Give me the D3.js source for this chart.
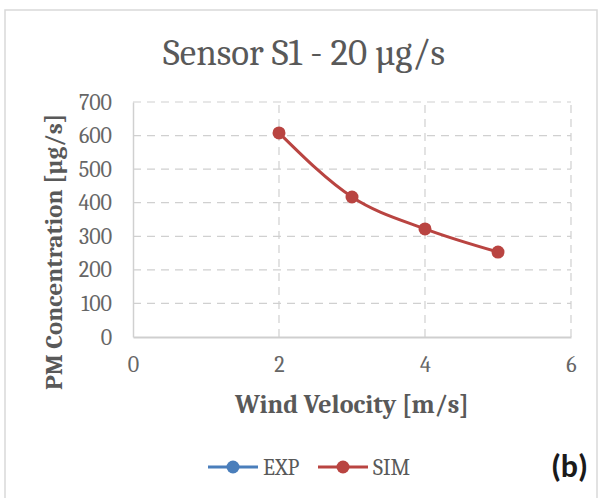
<!DOCTYPE html>
<html><head><meta charset="utf-8">
<script src="https://cdn.jsdelivr.net/npm/d3@7"></script>
<style>body{margin:0;background:#fff}svg{display:block}</style>
</head><body>
<svg id="c" width="601" height="498"></svg>
<script>
const windVelocity = [2, 3, 4, 5];
const simValues = [608, 417, 322, 253];
const expValues = [];
const xTicks = [0, 2, 4, 6];
const yTicks = [0, 100, 200, 300, 400, 500, 600, 700];
const seriesNames = ["EXP", "SIM"];
const seriesColors = ["#4a7ebb", "#b94441"];

const svg = d3.select("#c");
const serif = "Cambria, Caladea, 'Liberation Serif', 'DejaVu Serif', serif";
const gray = "#595959";

// outer frame
svg.append("rect").attr("x", 5).attr("y", 10).attr("width", 592).attr("height", 500)
  .attr("fill", "#fff").attr("stroke", "#d9d9d9").attr("stroke-width", 1.5);

const x = d3.scaleLinear().domain([0, 6]).range([133, 571]);
const y = d3.scaleLinear().domain([0, 700]).range([337, 102]);

// gridlines
const g = svg.append("g");
g.selectAll("line.h").data(yTicks.filter(d => d > 0)).join("line")
  .attr("x1", x(0)).attr("x2", x(6)).attr("y1", d => y(d)).attr("y2", d => y(d))
  .attr("stroke", "#d0d0d0").attr("stroke-width", 1.2).attr("stroke-dasharray", "8,6");
g.selectAll("line.v").data(xTicks.filter(d => d > 0)).join("line")
  .attr("y1", y(0)).attr("y2", y(700)).attr("x1", d => x(d)).attr("x2", d => x(d))
  .attr("stroke", "#d0d0d0").attr("stroke-width", 1.2).attr("stroke-dasharray", "8,6");

// axes
const xAxis = d3.axisBottom(x).tickValues(xTicks).tickFormat(d3.format("d")).tickSize(0).tickPadding(19);
const ya = d3.axisLeft(y).tickValues(yTicks).tickFormat(d3.format("d")).tickSize(0).tickPadding(21);
const gx = svg.append("g").attr("transform", `translate(0,${y(0)})`).call(xAxis);
const gy = svg.append("g").attr("transform", `translate(${x(0)},0)`).call(ya);
[gx, gy].forEach(a => {
  a.select(".domain").attr("stroke", "#d0d0d0").attr("stroke-width", 1.5);
  a.selectAll("text").attr("font-family", serif).attr("font-size", 22).attr("fill", "#666666");
});
gx.select(".domain").attr("stroke", "#cfcfcf").attr("stroke-width", 2);

// line
const line = d3.line().x(d => x(d[0])).y(d => y(d[1])).curve(d3.curveMonotoneX);
const simData = windVelocity.map((v, i) => [v, simValues[i]]);
svg.append("path").datum(simData).attr("d", line).attr("fill", "none")
  .attr("stroke", seriesColors[1]).attr("stroke-width", 3);
svg.selectAll("circle.sim").data(simData).join("circle")
  .attr("cx", d => x(d[0])).attr("cy", d => y(d[1])).attr("r", 6.5)
  .attr("fill", seriesColors[1]);

// title
svg.append("text").attr("x", 304).attr("y", 65).attr("text-anchor", "middle")
  .attr("font-family", serif).attr("font-size", 37).attr("fill", gray)
  .text("Sensor S1 - 20 µg/s");

// axis titles
svg.append("text").attr("x", 352).attr("y", 413).attr("text-anchor", "middle")
  .attr("font-family", serif).attr("font-size", 26).attr("font-weight", "bold").attr("fill", gray)
  .text("Wind Velocity [m/s]");
svg.append("text").attr("transform", "translate(62,252) rotate(-90)").attr("text-anchor", "middle")
  .attr("font-family", serif).attr("font-size", 25).attr("font-weight", "bold").attr("fill", gray)
  .text("PM Concentration [µg/s]");

// legend
const legX = [208, 318];
seriesNames.forEach((n, i) => {
  const lg = svg.append("g").attr("transform", `translate(${legX[i]},467)`);
  lg.append("line").attr("x1", 0).attr("x2", 50).attr("y1", 0).attr("y2", 0)
    .attr("stroke", seriesColors[i]).attr("stroke-width", 3);
  lg.append("circle").attr("cx", 25).attr("cy", 0).attr("r", 6.5).attr("fill", seriesColors[i]);
  lg.append("text").attr("x", 55).attr("y", 8).attr("font-family", serif).attr("font-size", 22)
    .attr("fill", gray).text(n);
});

// panel label
svg.append("text").attr("x", 588).attr("y", 477).attr("text-anchor", "end")
  .attr("font-family", "Carlito, 'Open Sans', 'DejaVu Sans', sans-serif").attr("font-size", 32)
  .attr("font-weight", "bold").attr("fill", "#1a1a1a").text("(b)");
</script>
</body></html>
